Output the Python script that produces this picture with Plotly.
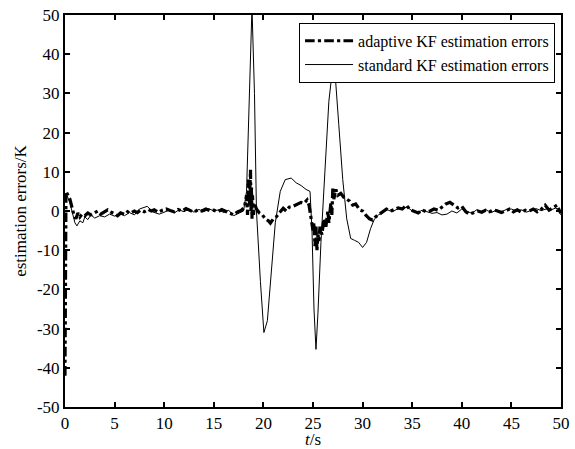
import plotly.graph_objects as go

# Standard KF estimation errors (t in s, error in K)
std_t = [0, 0.2, 0.5, 0.8, 1.0, 1.2, 1.5, 1.8, 2.0, 2.3, 2.6, 3.0, 3.5, 4.0, 4.5, 5.0, 5.5, 6.0, 6.5, 7.0,
         7.5, 8.3, 8.8, 9.5, 10, 10.5, 11, 11.5, 12, 12.5, 13, 13.5, 14, 14.5, 15, 15.5, 16, 16.5, 17, 17.5,
         18.0, 18.3, 18.6, 18.85, 19.1, 19.3, 19.7, 20.05, 20.4, 20.8, 21.2, 21.7, 22.2, 22.8, 23.3, 23.8,
         24.3, 24.7, 24.9, 25.1, 25.3, 25.5, 25.8, 26.2, 26.6, 27.0, 27.2, 27.6, 28.0, 28.4, 28.8, 29.2,
         29.6, 30.0, 30.4, 30.8, 31.2, 31.6, 32, 32.5, 33, 33.5, 34, 34.5, 35, 35.5, 36, 36.5, 37, 37.5,
         38, 38.5, 39, 39.5, 40, 40.5, 41, 41.5, 42, 42.5, 43, 43.5, 44, 44.5, 45, 45.5, 46, 46.5, 47,
         47.5, 48, 48.5, 49, 49.5, 50]
std_v = [4.5, 4, 2, -1, -3, -3.8, -2.5, -3, -1.5, -2.2, -1, -1.8, -1.2, -1.5, -0.8, -1.3, -0.6, -1.2, -0.4, -1.0,
         0.5, 1.2, -0.2, -0.8, -0.3, 0.2, -0.5, 0.3, -0.2, 0.5, -0.3, 0.4, -0.2, 0.6, 0, 0.3, -0.4, 0.2, -1.2, -0.5,
         0, 5, 30, 52, 30, 0, -18, -31, -28, -16, -3, 5, 8, 8.4, 7.2, 6.5,
         5.5, 5, -5, -25, -35.3, -26, -8, 10, 28, 37, 36, 22, 8, -2, -7, -7.5,
         -8, -9.3, -8, -4.5, -2, -1, -0.5, 0.3, -0.2, 0.5, 0.8, 1, 0, -0.5, 0.2, -0.3, -0.6, -0.4,
         -1, -0.8, 0, -0.5, 0.5, 0, -0.6, 0.3, -0.3, 0.2, -0.4, 0.3, -0.2, 0.4, 0.5, 0, 0.3, -0.3, 0.2,
         0.6, 0.1, 0.5, 0.3, 0.8, -1]

# Adaptive KF estimation errors
ada_t = [0, 0.03, 0.06, 0.1, 0.3, 0.5, 0.7, 0.9, 1.1, 1.3, 1.5, 1.7, 2.0, 2.3, 2.6, 3.0, 3.3, 3.6, 4.0, 4.3,
         4.6, 5.0, 5.3, 5.6, 6.0, 6.3, 6.6, 7.0, 7.3, 7.6, 8.0, 8.4, 8.7, 9.0, 9.4, 9.8, 10.2, 10.6, 11.0,
         11.4, 11.8, 12.2, 12.6, 13.0, 13.4, 13.8, 14.2, 14.6, 15.0, 15.4, 15.8, 16.2, 16.6, 17.0, 17.4,
         17.8, 18.1, 18.3, 18.4, 18.5, 18.6, 18.7, 18.75, 18.8, 18.85, 18.9, 19.0, 19.1, 19.3, 19.6, 19.9,
         20.2, 20.5, 20.7, 21.0, 21.3, 21.6, 22.0, 22.3, 22.6, 23.0, 23.4, 23.8, 24.1, 24.4, 24.6, 24.8,
         25.0, 25.1, 25.2, 25.3, 25.4, 25.5, 25.6, 25.7, 25.9, 26.1, 26.3, 26.5, 26.6, 26.8, 26.9, 27.0,
         27.1, 27.3, 27.5, 27.8, 28.1, 28.4, 28.7, 29.0, 29.3, 29.7, 30.0, 30.3, 30.7, 31.0, 31.3, 31.6,
         32.0, 32.4, 32.8, 33.2, 33.6, 34.0, 34.4, 34.8, 35.2, 35.6, 36.0, 36.4, 36.8, 37.2, 37.6, 38.0,
         38.4, 38.8, 39.2, 39.6, 40.0, 40.4, 40.8, 41.2, 41.6, 42.0, 42.4, 42.8, 43.2, 43.6, 44.0, 44.4,
         44.8, 45.2, 45.6, 46.0, 46.4, 46.8, 47.2, 47.6, 48.0, 48.4, 48.8, 49.2, 49.6, 49.8, 50.0]
ada_v = [-42, -20, 3, 5, 4, 3, 1, -1, -2, -0.5, -1.5, -0.8, -1.2, -0.5, -1, -0.3, 0, -0.8, -0.3, 0.3,
         -0.2, -0.8, -1.2, -0.5, -0.9, -0.2, -0.6, 0, -0.4, 0.2, -0.2, 0.4, 0, 0.3, -0.3, 0.2, 0.5, 0.1, -0.2,
         0.4, 0, 0.6, 0.2, -0.3, 0.3, 0, 0.5, 0.1, 0.2, -0.2, 0.4, 0, -0.6, -1, -0.2,
         0.2, 1, 4, -1, 8, 2, 10.5, 0, 6, -2, 4, -1, 2, 0.5, -0.5, -1,
         -2, -2.5, -3.1, -2, -1.5, -0.5, 0.7, 0, 1, 1.2, 1.8, 2.2, 2, 2.8, 1.5, -2,
         -5, -3, -9, -4, -10, -6, -8, -4, -6, -2, -4, 0, -3, 2, -1, 6,
         3, 5.5, 4, 4.5, 3.5, 3, 2.5, 1.5, 1.8, 0.3, 0, -1, -2, -2.3, -1.5, -1,
         -0.2, 0.5, 0, 0.3, 0.8, 0.5, 1.5, 0.3, 0, -0.5, 0.3, -0.2, 0, 0.5, 0.2, 1,
         1.8, 2.2, 1.5, 0.8, 1.2, -0.2, -0.8, -0.5, 0, -0.3, 0.2, -0.2, 0.3, 0, -0.4, 0,
         0.5, -0.2, 0.3, -0.3, 0.2, 0, 0.5, -0.2, 0.4, 1.5, 0.2, 0.8, 1.5, 0.3, -0.5]

x_ticks = [0, 5, 10, 15, 20, 25, 30, 35, 40, 45, 50]
y_ticks = [-50, -40, -30, -20, -10, 0, 10, 20, 30, 40, 50]

FONT = "Liberation Serif, Times New Roman, serif"

fig = go.Figure()
fig.add_trace(go.Scatter(x=ada_t, y=ada_v, mode="lines", name="adaptive KF estimation errors",
                         line=dict(color="black", width=3.2, dash="dashdot")))
fig.add_trace(go.Scatter(x=std_t, y=std_v, mode="lines", name="standard KF estimation errors",
                         line=dict(color="black", width=1)))

axis_common = dict(showgrid=False, zeroline=False, showline=True, linecolor="black", linewidth=2,
                   mirror="ticks", ticks="inside", ticklen=5, tickwidth=1.5, tickcolor="black",
                   automargin=False,
                   tickfont=dict(family=FONT, size=17, color="black"))

fig.update_xaxes(range=[0, 50], tickvals=x_ticks, ticktext=[str(v) for v in x_ticks],
                 title=dict(text="<i>t</i>/s", font=dict(family=FONT, size=17, color="black"), standoff=0),
                 **axis_common)
fig.update_yaxes(range=[-50, 50], tickvals=y_ticks, ticktext=[str(v) for v in y_ticks],
                 **axis_common)

fig.add_annotation(text="estimation errors/K", xref="paper", yref="paper",
                   x=-0.091, y=0.5, xanchor="center", yanchor="middle", textangle=-90,
                   showarrow=False, font=dict(family=FONT, size=17, color="black"))

fig.update_layout(
    width=575, height=449,
    margin=dict(l=65, r=14, t=15, b=42),
    paper_bgcolor="white", plot_bgcolor="white",
    showlegend=True,
    legend=dict(x=0.988, y=0.98, xanchor="right", yanchor="top",
                bgcolor="white", bordercolor="black", borderwidth=1,
                font=dict(family=FONT, size=16, color="black"),
                tracegroupgap=0, itemwidth=48),
)

fig.write_html("out.html", config={"displayModeBar": False},
               post_script="document.body.style.margin='0';document.body.style.padding='0';")
